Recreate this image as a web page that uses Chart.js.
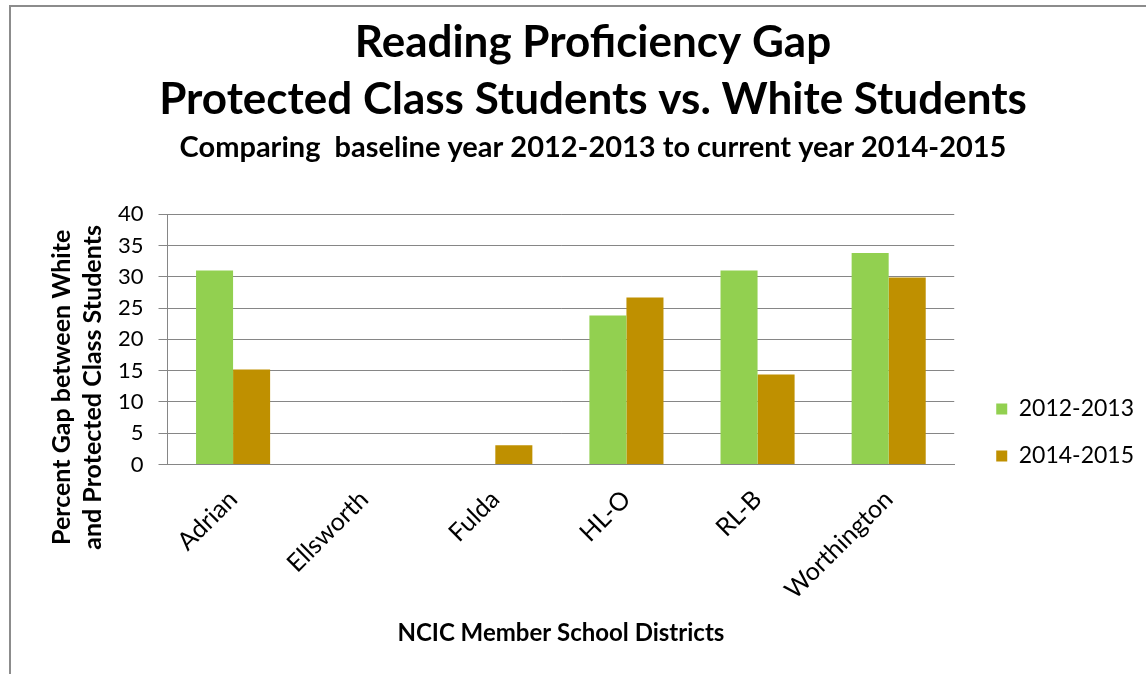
<!DOCTYPE html>
<html>
<head>
<meta charset="utf-8">
<script src="https://cdn.jsdelivr.net/npm/chart.js@4.4.1/dist/chart.umd.min.js"></script>
<style>
  html, body { margin: 0; padding: 0; background: #fff; }
  #wrap { position: relative; width: 1146px; height: 674px; }
</style>
</head>
<body>
<div id="wrap"><canvas id="ctx-gap" width="1146" height="674"></canvas></div>
<script>
const districts = ['Adrian', 'Ellsworth', 'Fulda', 'HL-O', 'RL-B', 'Worthington'];
const gap2012 = [31.0, null, null, 23.8, 31.0, 33.8];
const gap2014 = [15.2, null, 3.1, 26.7, 14.4, 29.9];
const seriesNames = ['2012-2013', '2014-2015'];
const yTicks = [0, 5, 10, 15, 20, 25, 30, 35, 40];
const yTitleLines = ['Percent Gap between White', 'and Protected Class Students'];

const FONT = "Lato, 'Open Sans', 'Liberation Sans', sans-serif";

// grey frame round the chart, like the slide border
const framePlugin = {
    id: 'frame',
    beforeDraw: (chart) => {
        const c = chart.ctx;
        c.save();
        c.fillStyle = '#fff';
        c.fillRect(0, 0, chart.width, chart.height);
        c.strokeStyle = '#8c8c8c';
        c.lineWidth = 2;
        c.beginPath();
        c.moveTo(10, chart.height);
        c.lineTo(10, 6);
        c.lineTo(chart.width, 6);
        c.stroke();
        c.restore();
    }
};

// legend sits a bit off the plot and low, as in the original
const legendShift = { x: 18, y: 27 };
const legendNudge = {
    id: 'legendNudge',
    afterLayout: (chart) => {
        const lg = chart.legend;
        if (!lg) return;
        lg.left += legendShift.x;
        lg.right += legendShift.x;
        lg.top += legendShift.y;
        lg.bottom += legendShift.y;
    }
};

// y title is centred lower than the plot in the original, so draw it here
const yTitleRoom = 43;
const yTitlePlugin = {
    id: 'yTitle',
    afterDraw: (chart) => {
        const area = chart.chartArea;
        const c = chart.ctx;
        const cy = (area.top + area.bottom) / 2 + 48;
        c.save();
        c.fillStyle = '#000';
        c.font = "bold 25px " + FONT;
        c.textAlign = 'center';
        c.textBaseline = 'middle';
        yTitleLines.forEach((line, i) => {
            c.save();
            c.translate(area.left - 106 + i * 31, cy);
            c.rotate(-Math.PI / 2);
            c.fillText(line, 0, 0);
            c.restore();
        });
        c.restore();
    }
};

let ctx = document.getElementById('ctx-gap');
let chart = new Chart(ctx, {
    type: 'bar',
    data: {
        labels: districts,
        datasets: [
            {
                label: seriesNames[0],
                data: gap2012,
                backgroundColor: '#92D050',
                categoryPercentage: 0.565,
                barPercentage: 1.0
            },
            {
                label: seriesNames[1],
                data: gap2014,
                backgroundColor: '#BF9000',
                categoryPercentage: 0.565,
                barPercentage: 1.0
            }
        ]
    },
    options: {
        responsive: false,
        animation: false,
        layout: {
            padding: { left: 60, right: 20, top: 14, bottom: 26 }
        },
        plugins: {
            title: {
                display: true,
                text: ['Reading Proficiency Gap', 'Protected Class Students vs. White Students'],
                color: '#000',
                font: { family: FONT, size: 44, weight: 'bold', lineHeight: 1.3 },
                padding: { top: 0, bottom: 0 }
            },
            subtitle: {
                display: true,
                text: 'Comparing  baseline year 2012-2013 to current year 2014-2015',
                color: '#000',
                font: { family: FONT, size: 29, weight: 'bold' },
                padding: { top: 2, bottom: 49 }
            },
            legend: {
                position: 'right',
                align: 'end',
                fullSize: false,
                labels: {
                    boxWidth: 11,
                    boxHeight: 11,
                    padding: 24,
                    color: '#000',
                    font: { family: FONT, size: 23 }
                }
            },
            tooltip: { enabled: false }
        },
        scales: {
            x: {
                grid: { display: false },
                border: { display: true, color: '#868686', width: 1 },
                ticks: {
                    color: '#000',
                    maxRotation: 45,
                    minRotation: 45,
                    padding: 12,
                    font: { family: FONT, size: 25 }
                },
                title: {
                    display: true,
                    text: 'NCIC Member School Districts',
                    color: '#000',
                    font: { family: FONT, size: 24, weight: 'bold' },
                    padding: { top: 2, bottom: 0 }
                }
            },
            y: {
                min: 0,
                max: 40,
                afterBuildTicks: (axis) => {
                    axis.ticks = yTicks.map(v => ({ value: v }));
                },
                afterFit: (axis) => {
                    axis.width += yTitleRoom;
                },
                grid: {
                    color: '#868686',
                    tickLength: 9,
                    drawTicks: true
                },
                border: { display: true, color: '#868686', width: 1 },
                ticks: {
                    color: '#000',
                    padding: 15,
                    font: { family: FONT, size: 22 }
                },
                title: { display: false }
            }
        }
    },
    plugins: [framePlugin, legendNudge, yTitlePlugin]
});
</script>
</body>
</html>
